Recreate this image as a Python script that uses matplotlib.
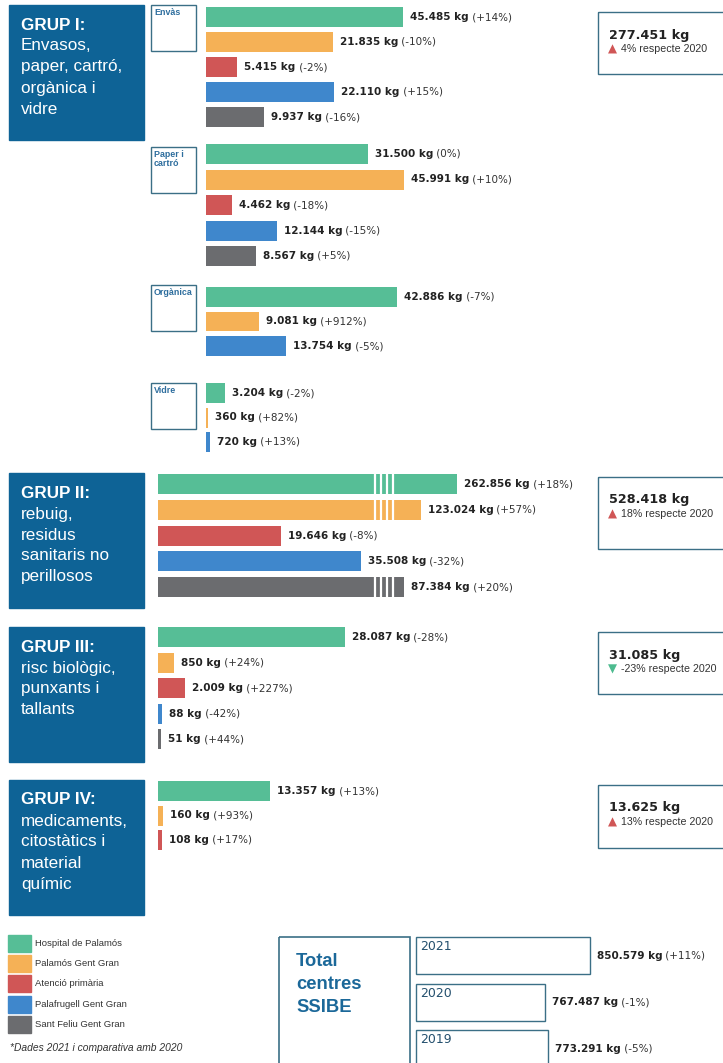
import numpy as np
import matplotlib
matplotlib.use("Agg")
import matplotlib.pyplot as plt
from matplotlib.patches import Rectangle

# Dades 2021 i variació respecte 2020
centres = ["Hospital de Palamós", "Palamós Gent Gran", "Atenció primària",
           "Palafrugell Gent Gran", "Sant Feliu Gent Gran"]
colors_centres = ["#56be96", "#f5b156", "#d05656", "#3f87cc", "#6b6c6f"]

envas_kg = [45485, 21835, 5415, 22110, 9937]
envas_var = ["+14%", "-10%", "-2%", "+15%", "-16%"]
paper_kg = [31500, 45991, 4462, 12144, 8567]
paper_var = ["0%", "+10%", "-18%", "-15%", "+5%"]
organica_kg = [42886, 9081, 13754]
organica_var = ["-7%", "+912%", "-5%"]
vidre_kg = [3204, 360, 720]
vidre_var = ["-2%", "+82%", "+13%"]
grup2_kg = [262856, 123024, 19646, 35508, 87384]
grup2_var = ["+18%", "+57%", "-8%", "-32%", "+20%"]
grup3_kg = [28087, 850, 2009, 88, 51]
grup3_var = ["-28%", "+24%", "+227%", "-42%", "+44%"]
grup4_kg = [13357, 160, 108]
grup4_var = ["+13%", "+93%", "+17%"]

grups_titol = ["GRUP I:", "GRUP II:", "GRUP III:", "GRUP IV:"]
grups_text = [["Envasos,", "paper, cartró,", "orgànica i", "vidre"],
              ["rebuig,", "residus", "sanitaris no", "perillosos"],
              ["risc biològic,", "punxants i", "tallants"],
              ["medicaments,", "citostàtics i", "material", "químic"]]
grups_total = ["277.451 kg", "528.418 kg", "31.085 kg", "13.625 kg"]
grups_canvi = [4, 18, -23, 13]

anys = ["2021", "2020", "2019"]
anys_kg = [850579, 767487, 773291]
anys_var = ["+11%", "-1%", "-5%"]

W, H = 723, 1063
estreta = "Liberation Sans"
blau = "#0e6396"
vora = "#3b6f86"
fosc = "#222222"

fig = plt.figure(figsize=(W / 100, H / 100), dpi=100)
fons = fig.add_axes([0, 0, 1, 1])
fons.set_xlim(0, W)
fons.set_ylim(H, 0)
fons.axis("off")


def eixos(x0, y_primer, pas, n, amplada):
    y_top = y_primer - pas / 2
    alt = pas * n
    ax = fig.add_axes([x0 / W, 1 - (y_top + alt) / H, amplada / W, alt / H])
    ax.set_ylim(n - 0.5, -0.5)
    ax.axis("off")
    return ax


def kg_txt(v):
    return f"{v:,}".replace(",", ".") + " kg"


def etiqueta(ax, x, y, negreta, normal):
    t = ax.annotate(negreta, xy=(x, y), xytext=(7, 0), textcoords="offset pixels",
                    va="center", ha="left", fontsize=7.5, fontweight="bold", color=fosc)
    ax.annotate(normal, xy=(1, 0.5), xycoords=t, va="center", ha="left",
                fontsize=7.5, color="#333333")


# escales: lineal i després comprimida (log) per a les barres llargues
def escala_log(s, B, c):
    pB = B / s

    def fwd(x):
        x = np.asarray(x, dtype=float)
        return np.where(x <= B, x / s, pB + c * np.log(np.maximum(x, B) / B))

    def inv(p):
        p = np.asarray(p, dtype=float)
        return np.where(p <= pB, p * s, B * np.exp((np.maximum(p, pB) - pB) / c))
    return fwd, inv


def escala_mixta(a, b):
    def fwd(x):
        x = np.maximum(np.asarray(x, dtype=float), 0)
        return a * x + b * np.sqrt(x)

    def inv(p):
        p = np.maximum(np.asarray(p, dtype=float), 0)
        r = (-b + np.sqrt(b * b + 4 * a * p)) / (2 * a)
        return r * r
    return fwd, inv


def bloc(x0, y_primer, pas, valors, variacions, idx, escala, amplada=330):
    ax = eixos(x0, y_primer, pas, len(valors), amplada)
    ax.set_xscale("function", functions=escala)
    files = np.arange(len(valors))
    ax.barh(files, valors, height=20 / pas, color=[colors_centres[i] for i in idx])
    ax.set_xlim(0, float(escala[1](amplada)))
    for i, (v, var) in enumerate(zip(valors, variacions)):
        etiqueta(ax, v, i, kg_txt(v), f" ({var})")
    return ax


esc1 = escala_log(172, 22000, 95)
bloc(206, 17, 25, envas_kg, envas_var, [0, 1, 2, 3, 4], esc1)
bloc(206, 154, 25.5, paper_kg, paper_var, [0, 1, 2, 3, 4], esc1)
bloc(206, 296.5, 25, organica_kg, organica_var, [0, 1, 3], esc1)
bloc(206, 393, 24.5, vidre_kg, vidre_var, [0, 1, 3], esc1)

esc2 = escala_log(160, 31600, 48)
ax2 = bloc(158, 484, 25.75, grup2_kg, grup2_var, [0, 1, 2, 3, 4], esc2)
ratlles = esc2[1]([217, 223, 229, 235])
hb = 20 / 25.75
for i, v in enumerate(grup2_kg):
    if esc2[0](v) > 240:
        ax2.vlines(ratlles, i - hb / 2, i + hb / 2, colors="white", lw=1.6)

bloc(158, 637.5, 25.4, grup3_kg, grup3_var, [0, 1, 2, 3, 4], escala_mixta(0.00418, 0.415))
bloc(158, 791, 24.5, grup4_kg, grup4_var, [0, 1, 2], escala_mixta(0.0056, 0.325))

# caixes dels grups
grups_top = [5, 473, 627, 780]
for top, titol, linies in zip(grups_top, grups_titol, grups_text):
    fons.add_patch(Rectangle((9, top), 135, 135, color=blau))
    fons.text(21, top + 20, titol, color="white", fontsize=12.3, fontweight="bold",
              family=estreta, va="center")
    for k, lin in enumerate(linies):
        fons.text(21, top + 41 + 21 * k, lin, color="white", fontsize=12.3,
                  family=estreta, va="center")

# etiquetes dels subgrups del grup I
subgrups = ["Envàs", "Paper i\ncartró", "Orgànica", "Vidre"]
subgrups_top = [5, 147, 285, 383]
for nom, top in zip(subgrups, subgrups_top):
    fons.add_patch(Rectangle((151, top), 45, 46, fill=False, edgecolor=vora, lw=1))
    fons.text(154, top + 3, nom, color="#2e6e9e", fontsize=6.4, fontweight="bold",
              family=estreta, va="top", linespacing=1.05)

# totals de cada grup
totals_top = [12, 477, 632, 785]
totals_alt = [62, 72, 62, 63]
for top, alt, tot, canvi in zip(totals_top, totals_alt, grups_total, grups_canvi):
    fons.add_patch(Rectangle((598, top), 140, alt, fill=False, edgecolor=vora, lw=1))
    fons.text(609, top + 23, tot, fontsize=9.2, fontweight="bold", color=fosc, va="center")
    if canvi >= 0:
        fons.text(608, top + 37, "▲", fontsize=8.5, color="#d05656", va="center")
    else:
        fons.text(608, top + 37, "▼", fontsize=8.5, color="#4dbb8f", va="center")
    fons.text(621, top + 37, f"{canvi}% respecte 2020", fontsize=7.65, family=estreta,
              color="#333333", va="center")

# llegenda
for k, (nom, col) in enumerate(zip(centres, colors_centres)):
    yc = 943.5 + 20.2 * k
    fons.add_patch(Rectangle((8, yc - 8.5), 23, 17, color=col))
    fons.text(35, yc, nom, fontsize=6.8, family=estreta, color="#333333", va="center")
fons.text(10, 1048, "*Dades 2021 i comparativa amb 2020", fontsize=7.4, family=estreta,
          style="italic", color="#333333", va="center")

# total centres SSIBE
fons.add_patch(Rectangle((279, 937), 131, 140, fill=False, edgecolor=vora, lw=1.2))
for k, lin in enumerate(["Total", "centres", "SSIBE"]):
    fons.text(296, 961 + 23.5 * k, lin, fontsize=13.2, fontweight="bold",
              family=estreta, color="#1b6899", va="center")

ay = eixos(415, 955.5, 46.5, 3, 300)
base, s_any = 529000, 1846
ay.set_xlim(base - s_any, base + 300 * s_any)
hy = 37 / 46.5
ay.barh(np.arange(3), [v - base for v in anys_kg], left=base, height=hy,
        facecolor="white", edgecolor=vora, lw=1)
for i, (a, v, var) in enumerate(zip(anys, anys_kg, anys_var)):
    ay.annotate(a, xy=(base, i - hy / 2), xytext=(4, -3), textcoords="offset pixels",
                va="top", ha="left", fontsize=9, color="#24506e")
    etiqueta(ay, v, i, kg_txt(v), f" ({var})")

fig.savefig("out.png", dpi=100)
